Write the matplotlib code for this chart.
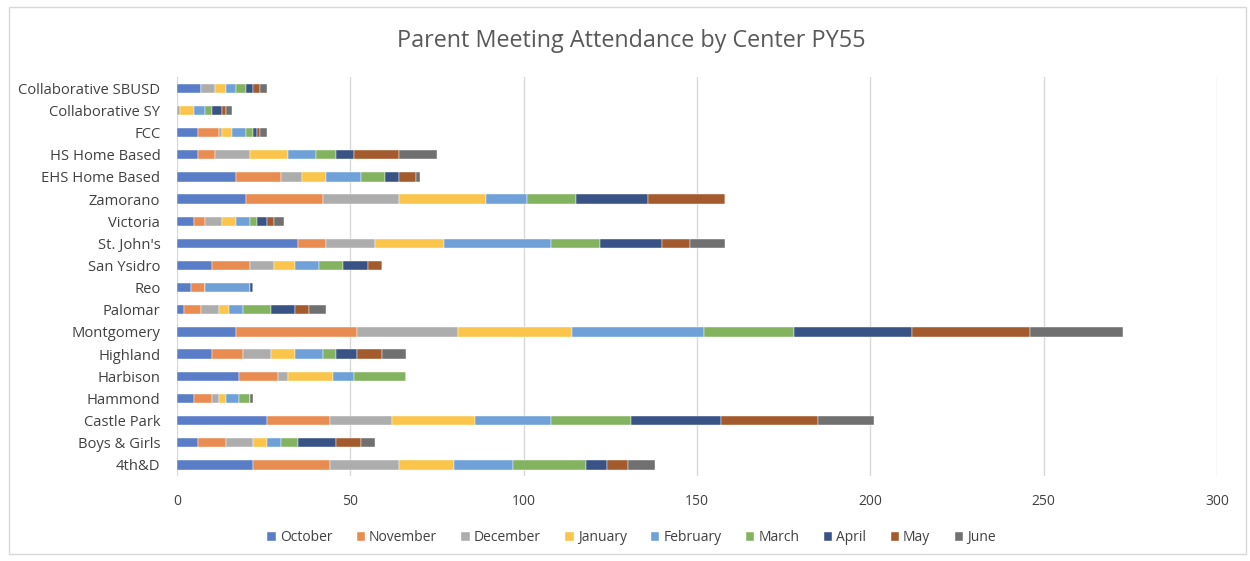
import matplotlib.pyplot as plt
import numpy as np
from matplotlib.patches import Rectangle

# centers, bottom to top as drawn
centers = ["4th&D", "Boys & Girls", "Castle Park", "Hammond", "Harbison",
           "Highland", "Montgomery", "Palomar", "Reo", "San Ysidro",
           "St. John's", "Victoria", "Zamorano", "EHS Home Based",
           "HS Home Based", "FCC", "Collaborative SY", "Collaborative SBUSD"]

months = ["October", "November", "December", "January", "February",
          "March", "April", "May", "June"]

october  = [22, 6, 26, 5, 18, 10, 17, 2, 4, 10, 35, 5, 20, 17, 6, 6, 0, 7]
november = [22, 8, 18, 5, 11, 9, 35, 5, 4, 11, 8, 3, 22, 13, 5, 6, 0, 0]
december = [20, 8, 18, 2, 3, 8, 29, 5, 0, 7, 14, 5, 22, 6, 10, 1, 1, 4]
january  = [16, 4, 24, 2, 13, 7, 33, 3, 0, 6, 20, 4, 25, 7, 11, 3, 4, 3]
february = [17, 4, 22, 4, 6, 8, 38, 4, 13, 7, 31, 4, 12, 10, 8, 4, 3, 3]
march    = [21, 5, 23, 3, 15, 4, 26, 8, 0, 7, 14, 2, 14, 7, 6, 2, 2, 3]
april    = [6, 11, 26, 0, 0, 6, 34, 7, 1, 7, 18, 3, 21, 4, 5, 1, 3, 2]
may      = [6, 7, 28, 0, 0, 7, 34, 4, 0, 4, 8, 2, 22, 5, 13, 1, 1, 2]
june     = [8, 4, 16, 1, 0, 7, 27, 5, 0, 0, 10, 3, 0, 1, 11, 2, 2, 2]

series = [october, november, december, january, february, march, april, may, june]

# Office-like palette, a touch lighter as in the screenshot
COLORS = ["#5a7dc8", "#e98c52", "#adadad", "#fac54a", "#6fa1d8",
          "#84b360", "#3a5387", "#a35a2c", "#707070"]

plt.rcParams['font.family'] = ['Open Sans', 'DejaVu Sans']

fig = plt.figure(figsize=(12.5, 5.61), dpi=100)
ax = fig.add_axes([0.1416, 0.1515, 0.832, 0.711])

y = np.arange(len(centers))
left = np.zeros(len(centers))
for vals, name, col in zip(series, months, COLORS):
    vals = np.array(vals, dtype=float)
    ax.barh(y, vals, left=left, height=0.42, color=col, label=name,
            edgecolor='white', linewidth=0.3)
    left += vals

ax.set_xlim(0, 300)
ax.set_ylim(-0.5, len(centers) - 0.5)
ax.set_xticks(np.arange(0, 301, 50))
ax.set_yticks(y)
ax.set_yticklabels(centers, fontsize=10.6)
ax.tick_params(axis='both', length=0, colors='#404040')
ax.tick_params(axis='y', pad=12)
ax.tick_params(axis='x', pad=13, labelsize=10)
ax.grid(axis='x', color='#d9d9d9', linewidth=1)
ax.set_axisbelow(True)
for s in ax.spines.values():
    s.set_visible(False)

fig.suptitle("Parent Meeting Attendance by Center PY55", x=0.505, y=0.948,
             fontsize=16.8, color='#595959')

ax.legend(loc='upper center', bbox_to_anchor=(0.437, -0.105), ncol=9,
          frameon=False, fontsize=10, handlelength=0.6, handleheight=0.6,
          handletextpad=0.3, columnspacing=1.75, labelcolor='#404040')

# chart border
fig.patches.append(Rectangle((0.007, 0.012), 0.99, 0.975, transform=fig.transFigure,
                             fill=False, edgecolor='#d9d9d9', linewidth=1))

fig.savefig("out.png", dpi=100)
